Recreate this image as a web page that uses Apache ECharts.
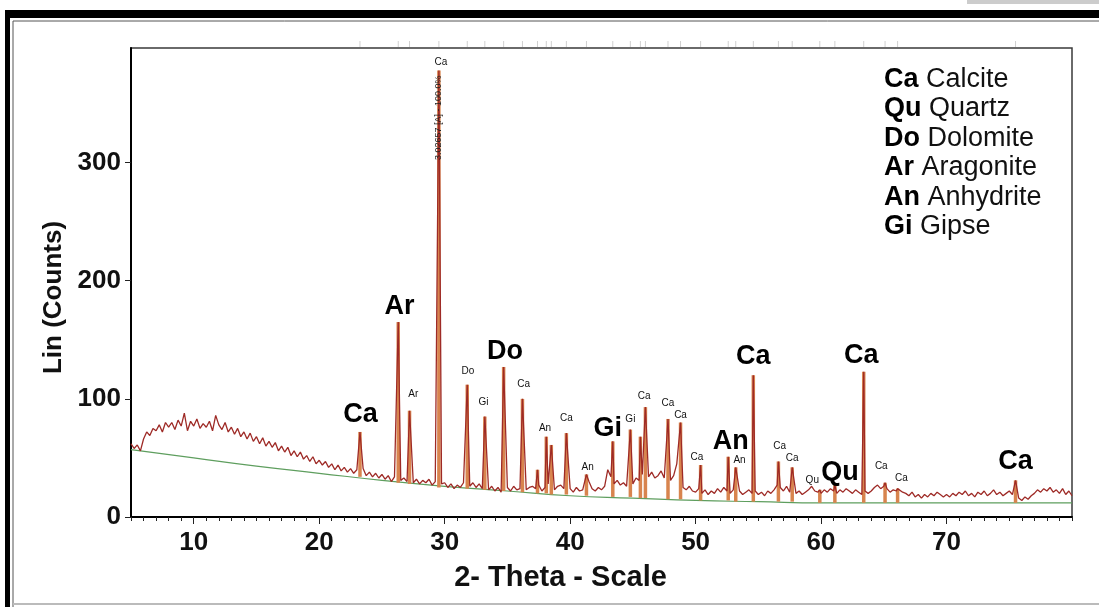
<!DOCTYPE html>
<html>
<head>
<meta charset="utf-8">
<script src="https://cdn.jsdelivr.net/npm/echarts@6/dist/echarts.min.js"></script>
<style>
html, body { margin: 0; padding: 0; background: #fff; }
#chart { width: 1099px; height: 607px; }
</style>
</head>
<body>
<div id="chart"></div>
<script>
// --- DATA ---
// measured scan, 2-theta 5..80 every 0.25 deg
const scanStart = 5;
const scanStep = 0.25;
const counts = [
    62, 58, 61, 56, 66, 72, 69, 75, 73, 78, 72, 80, 76, 80, 74, 82, 77, 88, 73, 81,
    77, 83, 75, 79, 76, 81, 73, 86, 78, 74, 80, 72, 76, 70, 75, 68, 72, 66, 71, 64,
    68, 62, 67, 60, 64, 59, 63, 56, 60, 55, 59, 52, 56, 51, 55, 49, 52, 47, 51, 45,
    48, 44, 47, 42, 45, 40, 44, 39, 42, 38, 41, 37, 40, 36, 41, 35, 38, 34, 37, 33,
    36, 32, 35, 30, 34, 35, 31, 33, 30, 33, 29, 32, 28, 31, 29, 32, 27, 30, 26, 28,
    29, 25, 28, 24, 27, 25, 29, 23, 26, 29, 25, 28, 24, 27, 23, 26, 22, 25, 21, 24,
    25, 22, 26, 23, 24, 28, 23, 25, 26, 24, 27, 22, 25, 28, 24, 23, 26, 27, 24, 22,
    24, 21, 25, 22, 23, 26, 30, 24, 22, 25, 23, 26, 40, 34, 28, 31, 27, 29, 26, 30,
    28, 33, 31, 36, 30, 34, 38, 33, 35, 39, 33, 37, 31, 35, 45, 27, 25, 23, 26, 22,
    21, 24, 20, 23, 19, 22, 20, 24, 21, 25, 22, 20, 23, 20, 22, 19, 21, 23, 20, 22,
    19, 21, 18, 22, 20, 23, 27, 25, 22, 26, 21, 24, 20, 22, 19, 21, 23, 26, 22, 21,
    20, 23, 21, 24, 22, 20, 23, 21, 24, 22, 20, 23, 21, 19, 22, 20, 22, 25, 27, 24,
    26, 24, 21, 23, 22, 25, 21, 20, 18, 21, 17, 19, 16, 19, 17, 20, 18, 21, 19, 17,
    19, 17, 20, 18, 21, 19, 22, 18, 20, 17, 21, 19, 22, 18, 20, 23, 19, 21, 18, 20,
    22, 19, 20, 16, 14, 17, 15, 18, 20, 23, 21, 24, 22, 25, 21, 23, 20, 24, 19, 22,
    18
];

// peak maxima and stick bottoms
const peakPos  = [23.25, 26.3, 27.2, 29.54, 31.8, 33.2, 34.7, 36.2, 37.4, 38.1, 38.5, 39.7, 41.3, 43.4, 44.8, 45.6, 46.0, 47.8, 48.8, 50.4, 52.6, 53.2, 54.6, 56.6, 57.7, 59.9, 61.1, 63.4, 65.1, 66.1, 75.5];
const peakTop  = [72, 165, 90, 378, 112, 85, 127, 100, 40, 68, 61, 71, 36, 64, 74, 68, 93, 83, 80, 44, 51, 42, 120, 47, 42, 23, 27, 123, 29, 24, 31];
const peakBase = [34, 29, 28, 25, 24, 23, 22, 21, 20, 20, 19, 19, 18, 17, 17, 16, 16, 15, 15, 14, 14, 13, 13, 13, 13, 12, 12, 12, 12, 12, 12];

// fitted background (green)
const bgTheta  = [5, 10, 15, 20, 25, 30, 35, 40, 45, 50, 55, 60, 70, 80];
const bgCounts = [57, 50, 43, 37, 31, 26, 22, 18, 16, 14, 13, 12, 12, 12];

const xTicks = [10, 20, 30, 40, 50, 60, 70];
const yTicks = [0, 100, 200, 300];

const phaseAbbr = ['Ca', 'Qu', 'Do', 'Ar', 'An', 'Gi'];
const phaseName = ['Calcite', 'Quartz', 'Dolomite', 'Aragonite', 'Anhydrite', 'Gipse'];

// peak annotations
const labelText   = ['Ca', 'Ar', 'Do', 'Gi', 'An', 'Ca', 'Ca', 'Qu', 'Ca',
    'Ca', 'Ar', 'Do', 'Gi', 'Ca', 'An', 'Ca', 'An', 'Gi', 'Ca', 'Ca', 'Ca', 'Ca', 'An', 'Ca', 'Ca', 'Qu', 'Ca', 'Ca'];
const labelTheta  = [23.3, 26.4, 34.8, 43.0, 52.8, 54.6, 63.2, 61.5, 75.5,
    29.7, 27.5, 31.85, 33.1, 36.3, 38.0, 39.7, 41.4, 44.8, 45.9, 47.8, 48.8, 50.1, 53.5, 56.7, 57.7, 59.3, 64.8, 66.4];
const labelCounts = [87, 178, 140, 75, 64, 136, 137, 38, 47,
    385, 104, 123, 97, 112, 75, 84, 42, 83, 102, 96, 86, 51, 48, 60, 50, 31, 43, 33];
const labelBig    = [1, 1, 1, 1, 1, 1, 1, 1, 1,
    0, 0, 0, 0, 0, 0, 0, 0, 0, 0, 0, 0, 0, 0, 0, 0, 0, 0, 0];

// --- BUILD ---
const FONT = 'Liberation Sans, Arial, sans-serif';

const peakPts = peakPos.map((p, i) => [p, peakTop[i]]);
const scanPts = counts.map((c, i) => [scanStart + i * scanStep, c])
    .filter(pt => !peakPos.some(p => Math.abs(p - pt[0]) < 0.06));
const pattern = scanPts.concat(peakPts).sort((a, b) => a[0] - b[0]);

const labels = labelText.map((t, i) => ({
    name: t,
    value: [labelTheta[i], labelCounts[i]],
    label: labelBig[i]
        ? { fontSize: 27, fontWeight: 'bold', color: '#000' }
        : { fontSize: 10, color: '#111' }
}));
labels.push({
    name: '3.02657 [A] - 100.0%',
    value: [29.5, 338],
    label: { fontSize: 9, color: '#222', rotate: 90 }
});

const legendText = phaseAbbr.map((a, i) => ({
    type: 'text',
    left: 884,
    top: 66 + i * 29.4,
    style: {
        text: `{b|${a}} ${phaseName[i]}`,
        fontSize: 27,
        fontFamily: FONT,
        fill: '#111',
        rich: { b: { fontWeight: 'bold', fontSize: 27, fontFamily: FONT, fill: '#000' } }
    }
}));

const chart = echarts.init(document.getElementById('chart'));

chart.setOption({
    animation: false,
    backgroundColor: '#fff',
    grid: { left: 131, right: 27, top: 48, bottom: 90, show: true, borderColor: '#3a3a3a', borderWidth: 1.5 },
    xAxis: [{
        type: 'value', min: 5, max: 80, interval: 1,
        axisLine: { lineStyle: { color: '#000', width: 2 } },
        axisTick: { length: 4, lineStyle: { color: '#222' } },
        axisLabel: { customValues: xTicks, fontSize: 26, fontWeight: 'bold', color: '#111', margin: 13, fontFamily: FONT },
        splitLine: { show: false },
        name: '2- Theta - Scale', nameLocation: 'middle', nameGap: 46,
        nameTextStyle: { fontSize: 29, fontWeight: 'bold', color: '#111', fontFamily: FONT, padding: [0, 82, 0, 0] }
    }, {
        type: 'value', min: 5, max: 80, interval: 1, position: 'bottom',
        axisLine: { show: false },
        axisTick: { customValues: xTicks, length: 7, lineStyle: { color: '#222' } },
        axisLabel: { show: false },
        splitLine: { show: false }
    }],
    yAxis: {
        type: 'value', min: 0, max: 397, interval: 100,
        axisLine: { show: true, lineStyle: { color: '#000', width: 2 } },
        axisTick: { show: true, customValues: yTicks, length: 6, lineStyle: { color: '#222' } },
        axisLabel: { customValues: yTicks, fontSize: 26, fontWeight: 'bold', color: '#111', margin: 10, fontFamily: FONT },
        splitLine: { show: false },
        name: 'Lin (Counts)', nameLocation: 'middle', nameGap: 64, nameRotate: 90,
        nameTextStyle: { fontSize: 26, fontWeight: 'bold', color: '#111', fontFamily: FONT, padding: [0, 30, 0, 0] }
    },
    graphic: [
        // photo frame
        { type: 'rect', shape: { x: 5, y: 10, width: 1094, height: 8 }, style: { fill: '#000' } },
        { type: 'rect', shape: { x: 5, y: 10, width: 5, height: 597 }, style: { fill: '#000' } },
        { type: 'line', shape: { x1: 13, y1: 21, x2: 1099, y2: 21 }, style: { stroke: '#555', lineWidth: 1 } },
        { type: 'line', shape: { x1: 13, y1: 21, x2: 13, y2: 607 }, style: { stroke: '#555', lineWidth: 1 } },
        { type: 'line', shape: { x1: 13, y1: 604, x2: 1099, y2: 604 }, style: { stroke: '#bbb', lineWidth: 2 } },
        { type: 'rect', shape: { x: 967, y: 0, width: 132, height: 4 }, style: { fill: '#ccc' } },
        ...legendText
    ],
    series: [
        {
            // stick markers at top edge
            type: 'custom', xAxisIndex: 0, clip: false, silent: true,
            data: peakPos.map(p => [p]),
            renderItem: (params, api) => {
                const pt = api.coord([api.value(0), 397]);
                return { type: 'line', shape: { x1: pt[0], y1: pt[1] - 7, x2: pt[0], y2: pt[1] - 1 },
                    style: { stroke: '#d0d0d0', lineWidth: 1 } };
            },
            z: 1
        },
        {
            type: 'line', name: 'background', data: bgTheta.map((t, i) => [t, bgCounts[i]]),
            smooth: true, showSymbol: false, lineStyle: { color: '#5e9e5e', width: 1.2 }, z: 2
        },
        {
            type: 'custom', name: 'sticks', silent: true,
            data: peakPos.map((p, i) => [p, peakBase[i], peakTop[i]]),
            encode: { x: 0, y: [1, 2] },
            renderItem: (params, api) => {
                const a = api.coord([api.value(0), api.value(1)]);
                const b = api.coord([api.value(0), api.value(2)]);
                return { type: 'line', shape: { x1: a[0], y1: a[1], x2: b[0], y2: b[1] },
                    style: { stroke: '#d8844e', lineWidth: 3.5 } };
            },
            z: 3
        },
        {
            type: 'line', name: 'scan', data: pattern,
            showSymbol: false, lineStyle: { color: '#9e2a26', width: 1.3 }, z: 4
        },
        {
            type: 'scatter', name: 'labels', data: labels, symbolSize: 0, silent: true,
            itemStyle: { opacity: 1 },
            label: { show: true, position: 'inside', formatter: '{b}', fontFamily: FONT, textBorderWidth: 0, opacity: 1 },
            z: 5
        }
    ]
});
</script>
</body>
</html>
